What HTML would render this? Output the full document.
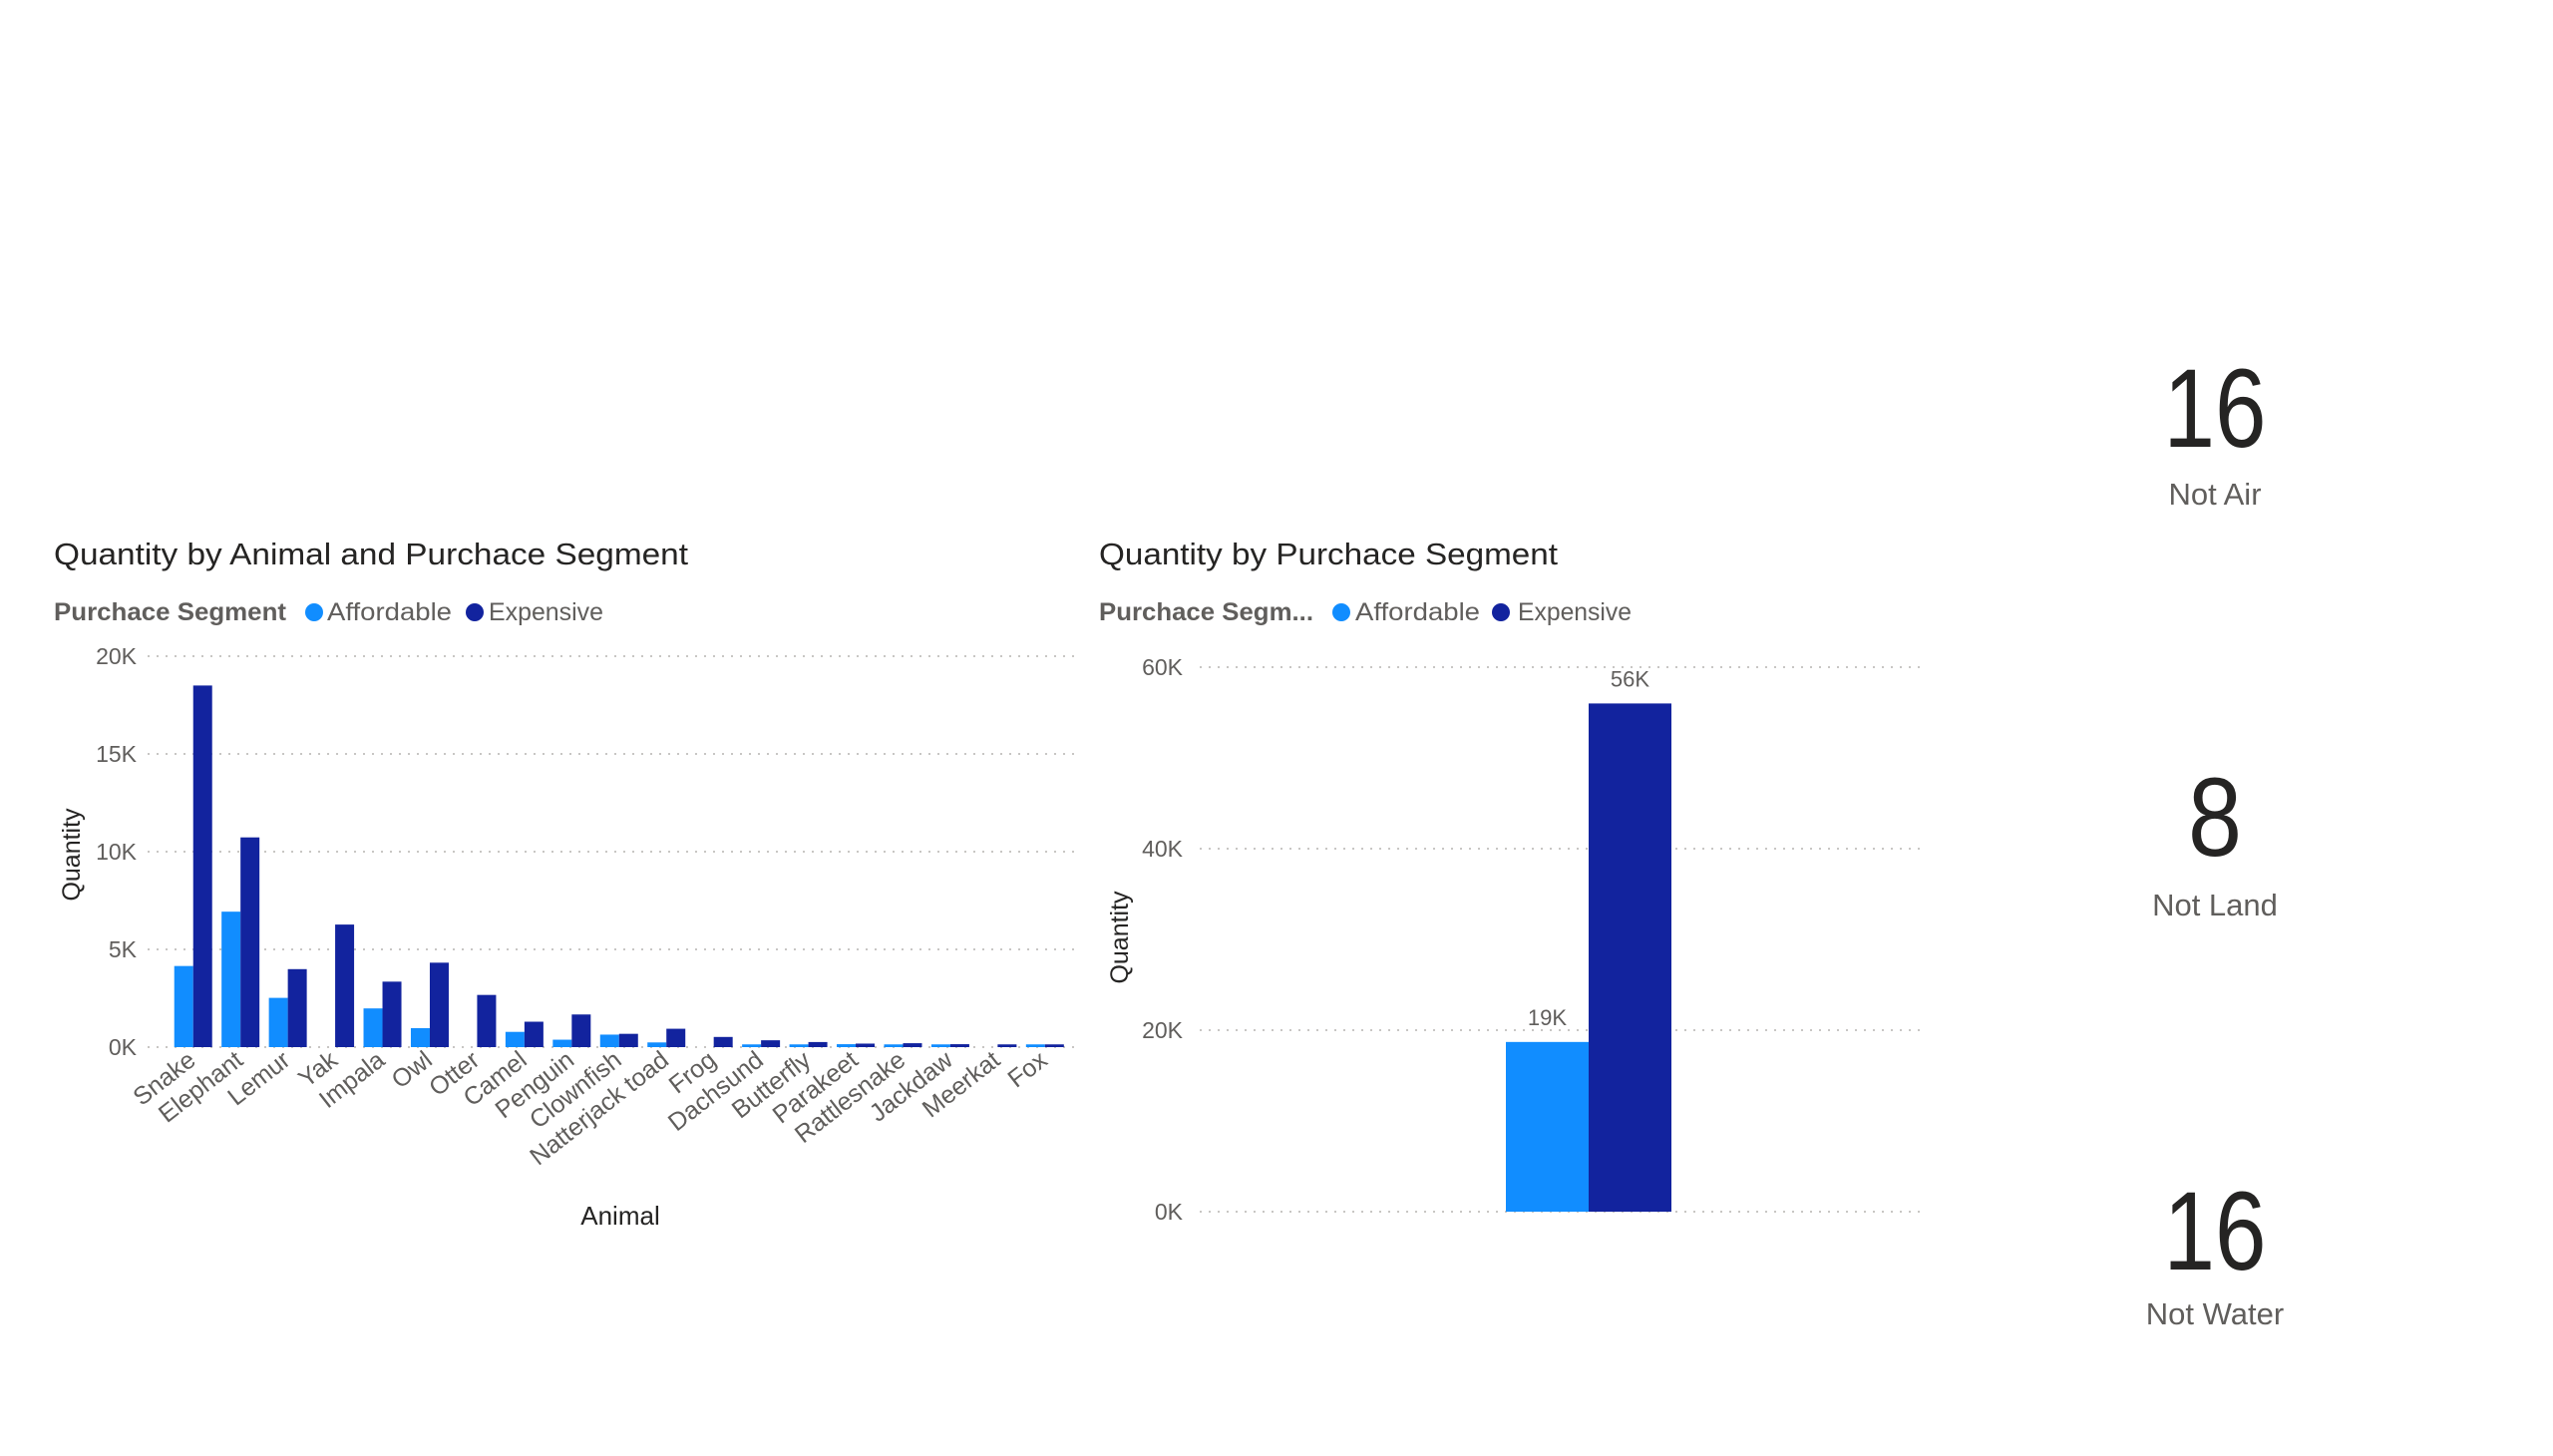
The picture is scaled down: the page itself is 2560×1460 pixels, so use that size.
<!DOCTYPE html>
<html><head><meta charset="utf-8"><style>
html,body{margin:0;padding:0;background:#fff;}
svg{display:block;font-family:"Liberation Sans",sans-serif;}
</style></head><body>
<svg id="root" width="2560" height="1460" viewBox="0 0 2560 1460" xmlns="http://www.w3.org/2000/svg">
<g id="c1">
  <text x="54" y="566" font-size="31" fill="#252423" textLength="636" lengthAdjust="spacingAndGlyphs">Quantity by Animal and Purchace Segment</text>
  <g>
    <text x="54" y="622" font-size="25" font-weight="bold" fill="#605e5c" textLength="233" lengthAdjust="spacingAndGlyphs">Purchace Segment</text>
    <circle cx="315" cy="614" r="9" fill="#118DFF"/>
    <text x="328" y="622" font-size="25" fill="#605e5c" textLength="125" lengthAdjust="spacingAndGlyphs">Affordable</text>
    <circle cx="476" cy="614" r="9" fill="#12239E"/>
    <text x="490" y="622" font-size="25" fill="#605e5c" textLength="115" lengthAdjust="spacingAndGlyphs">Expensive</text>
  </g>
  <text transform="translate(80,857) rotate(-90)" text-anchor="middle" font-size="25" fill="#252423">Quantity</text>
  <text x="622" y="1228" text-anchor="middle" font-size="26" fill="#252423">Animal</text>
  <g id="c1grid"></g><g id="c1bars"></g><g id="c1x"></g>
</g>
<g id="c2">
  <text x="1102" y="566" font-size="31" fill="#252423" textLength="460" lengthAdjust="spacingAndGlyphs">Quantity by Purchace Segment</text>
  <g>
    <text x="1102" y="622" font-size="25" font-weight="bold" fill="#605e5c" textLength="215" lengthAdjust="spacingAndGlyphs">Purchace Segm...</text>
    <circle cx="1345" cy="614" r="9" fill="#118DFF"/>
    <text x="1359" y="622" font-size="25" fill="#605e5c" textLength="125" lengthAdjust="spacingAndGlyphs">Affordable</text>
    <circle cx="1505" cy="614" r="9" fill="#12239E"/>
    <text x="1522" y="622" font-size="25" fill="#605e5c" textLength="114" lengthAdjust="spacingAndGlyphs">Expensive</text>
  </g>
  <text transform="translate(1131,940) rotate(-90)" text-anchor="middle" font-size="25" fill="#252423">Quantity</text>
  <g id="c2grid"></g><g id="c2bars"></g>
</g>
<g fill="#252423" text-anchor="middle">
  <text x="2221" y="448" font-size="112" textLength="103" lengthAdjust="spacingAndGlyphs">16</text>
  <text x="2221" y="506" font-size="31" fill="#605e5c">Not Air</text>
  <text x="2221" y="858" font-size="112" textLength="54" lengthAdjust="spacingAndGlyphs">8</text>
  <text x="2221" y="918" font-size="31" fill="#605e5c">Not Land</text>
  <text x="2221" y="1273" font-size="112" textLength="103" lengthAdjust="spacingAndGlyphs">16</text>
  <text x="2221" y="1328" font-size="31" fill="#605e5c">Not Water</text>
</g>
</svg>
<script>
const animals = ["Snake","Elephant","Lemur","Yak","Impala","Owl","Otter","Camel","Penguin","Clownfish","Natterjack toad","Frog","Dachsund","Butterfly","Parakeet","Rattlesnake","Jackdaw","Meerkat","Fox"];
const affordable = [4150,6930,2520,0,1980,970,0,780,380,640,240,0,140,140,150,140,140,0,140];
const expensive = [18500,10730,3990,6270,3350,4320,2670,1300,1670,680,940,520,350,260,180,200,150,140,140];
const yTicks1 = [0,5000,10000,15000,20000];
const yTickLabels1 = ["0K","5K","10K","15K","20K"];
const segments = ["Affordable","Expensive"];
const segmentTotals = [18700,56000];
const segmentLabels = ["19K","56K"];
const yTicks2 = [0,20000,40000,60000];
const yTickLabels2 = ["0K","20K","40K","60K"];

const NS="http://www.w3.org/2000/svg";
function mk(tag,attrs,parent){const e=document.createElementNS(NS,tag);for(const k in attrs)e.setAttribute(k,attrs[k]);parent.appendChild(e);return e;}
const C1="#118DFF",C2="#12239E";

const y1=v=>1050-(v/20000)*392;
const bandStart=170,band=47.45;
const x1=i=>bandStart+band*i;
const g1=document.getElementById('c1grid');
yTicks1.forEach((t,i)=>{
  const l=mk('line',{x1:148,x2:1083,y1:y1(t),y2:y1(t),stroke:"#c8c6c4","stroke-width":2,"stroke-dasharray":"2 7"},g1);
  
  
  const tx=mk('text',{x:137,y:y1(t)+8,"text-anchor":"end","font-size":23,fill:"#605e5c"},g1);
  
  
  tx.textContent=yTickLabels1[i];
});
const b1=document.getElementById('c1bars'),xl=document.getElementById('c1x');
animals.forEach((a,i)=>{
  const c=x1(i)+band/2,w=19;
  if(affordable[i]>0){
    const r=mk('rect',{x:c-w,y:y1(affordable[i]),width:w,height:y1(0)-y1(affordable[i]),fill:C1},b1);
    
    
  }
  const r2=mk('rect',{x:c,y:y1(expensive[i]),width:w,height:y1(0)-y1(expensive[i]),fill:C2},b1);
  
  
  const t=mk('text',{transform:`translate(${c+4},1066) rotate(-38)`,"text-anchor":"end","font-size":25,fill:"#605e5c"},xl);
  
  
  t.textContent=a;
});

const y2=v=>1215-(v/60000)*546;
const g2=document.getElementById('c2grid');
yTicks2.forEach((t,i)=>{
  const l=mk('line',{x1:1203,x2:1930,y1:y2(t),y2:y2(t),stroke:"#c8c6c4","stroke-width":2,"stroke-dasharray":"2 7"},g2);
  
  
  const tx=mk('text',{x:1186,y:y2(t)+8,"text-anchor":"end","font-size":23,fill:"#605e5c"},g2);
  
  
  tx.textContent=yTickLabels2[i];
});
const b2=document.getElementById('c2bars');
const cx2=1593,w2=83;
segments.forEach((s,i)=>{
  const x=i===0?cx2-w2:cx2;
  const r=mk('rect',{x:x,y:y2(segmentTotals[i]),width:w2,height:y2(0)-y2(segmentTotals[i]),fill:i===0?C1:C2},b2);
  
  
  const t=mk('text',{x:x+w2/2,y:y2(segmentTotals[i])-17,"text-anchor":"middle","font-size":22,fill:"#605e5c"},b2);
  
  
  t.textContent=segmentLabels[i];
});
</script>
</body></html>
